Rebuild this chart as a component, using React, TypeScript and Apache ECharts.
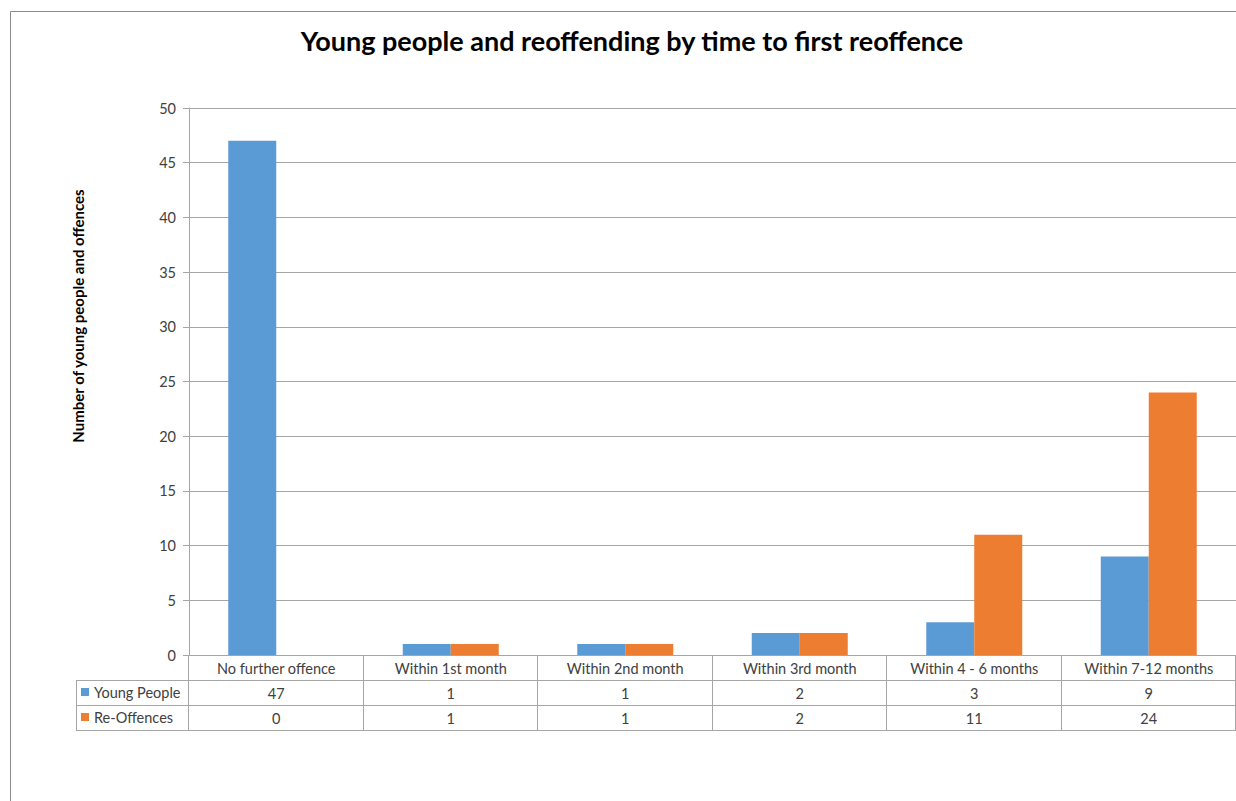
import React, { useEffect, useRef } from "react";
import * as echarts from "echarts";

const categories = [
  "No further offence",
  "Within 1st month",
  "Within 2nd month",
  "Within 3rd month",
  "Within 4 - 6 months",
  "Within 7-12 months",
];
const youngPeople = [47, 1, 1, 2, 3, 9];
const reOffences = [0, 1, 1, 2, 11, 24];
const seriesNames = ["Young People", "Re-Offences"];
const seriesColors = ["#5B9BD5", "#ED7D31"];

const W = 1236;
const H = 801;
// plot area
const PL = 189;
const PR = 1236;
const PT = 108;
const PB = 655;
const ROW = 25;
const TABLE_LEFT = 76;
const FONT = "Lato, 'Open Sans', sans-serif";
const LINE = "#A6A6A6";
const TEXT = "#404040";
const SMALL = 14.5;

export default function App() {
  const ref = useRef<HTMLDivElement>(null);

  useEffect(() => {
    if (!ref.current) return;
    const chart = echarts.init(ref.current, undefined, { renderer: "svg" });
    const colW = (PR - PL) / categories.length;

    const graphics: any[] = [];
    // outer chart frame (left & top edges)
    graphics.push({
      type: "polyline",
      shape: { points: [[10.5, H], [10.5, 11.5], [W, 11.5]] },
      style: { stroke: "#8C8C8C", lineWidth: 1, fill: "none" },
      silent: true,
    });
    // data table: horizontal rules
    [PB + ROW, PB + 2 * ROW, PB + 3 * ROW].forEach((y) => {
      graphics.push({
        type: "line",
        shape: { x1: TABLE_LEFT, y1: y + 0.5, x2: PR, y2: y + 0.5 },
        style: { stroke: LINE, lineWidth: 1 },
        silent: true,
      });
    });
    // data table: vertical rules
    for (let i = 0; i <= categories.length; i++) {
      const x = Math.round(PL + i * colW) - 0.5;
      graphics.push({
        type: "line",
        shape: { x1: x, y1: PB, x2: x, y2: PB + 3 * ROW },
        style: { stroke: LINE, lineWidth: 1 },
        silent: true,
      });
    }
    graphics.push({
      type: "line",
      shape: { x1: TABLE_LEFT + 0.5, y1: PB + ROW, x2: TABLE_LEFT + 0.5, y2: PB + 3 * ROW },
      style: { stroke: LINE, lineWidth: 1 },
      silent: true,
    });
    // legend keys inside the table
    seriesNames.forEach((name, i) => {
      const cy = PB + ROW * (i + 1) + ROW / 2;
      graphics.push({
        type: "rect",
        shape: { x: 81, y: cy - 4.5, width: 8, height: 8 },
        style: { fill: seriesColors[i] },
        silent: true,
      });
      graphics.push({
        type: "text",
        x: 94,
        y: cy,
        style: {
          text: name,
          font: `${SMALL}px ${FONT}`,
          fill: TEXT,
          verticalAlign: "middle",
          align: "left",
        },
        silent: true,
      });
    });
    // y axis title
    graphics.push({
      type: "text",
      x: 78,
      y: 316,
      rotation: Math.PI / 2,
      style: {
        text: "Number of young people and offences",
        font: `bold 15px ${FONT}`,
        fill: "#000000",
        align: "center",
        verticalAlign: "middle",
      },
      silent: true,
    });

    const rowAxis = (offset: number, values: number[]) => ({
      type: "category",
      data: categories,
      position: "bottom",
      offset,
      axisLine: { show: false },
      axisTick: { show: false },
      axisLabel: {
        interval: 0,
        margin: 6,
        fontFamily: FONT,
        fontSize: SMALL,
        color: TEXT,
        formatter: (_v: string, idx: number) => String(values[idx]),
      },
    });

    chart.setOption({
      animation: false,
      backgroundColor: "#ffffff",
      title: {
        text: "Young people and reoffending by time to first reoffence",
        left: 627,
        textAlign: "center",
        top: 22,
        textStyle: { fontFamily: FONT, fontWeight: "bold", fontSize: 27, color: "#000000" },
      },
      grid: { left: PL, right: W - PR, top: PT, bottom: H - PB, containLabel: false },
      xAxis: [
        {
          type: "category",
          data: categories,
          axisLine: { show: true, lineStyle: { color: LINE, width: 1 } },
          axisTick: { show: false },
          axisLabel: {
            interval: 0,
            margin: 6,
            fontFamily: FONT,
            fontSize: SMALL,
            color: TEXT,
          },
        },
        rowAxis(ROW, youngPeople),
        rowAxis(2 * ROW, reOffences),
      ],
      yAxis: {
        type: "value",
        min: 0,
        max: 50,
        interval: 5,
        axisLine: { show: true, lineStyle: { color: LINE, width: 1 } },
        axisTick: { show: true, inside: false, length: 6, lineStyle: { color: LINE } },
        axisLabel: { fontFamily: FONT, fontSize: SMALL, color: TEXT, margin: 13 },
        splitLine: { show: true, lineStyle: { color: LINE, width: 1 } },
      },
      series: [
        {
          name: seriesNames[0],
          type: "bar",
          data: youngPeople,
          barWidth: 48,
          barGap: "0%",
          itemStyle: { color: seriesColors[0] },
        },
        {
          name: seriesNames[1],
          type: "bar",
          data: reOffences,
          barWidth: 48,
          barGap: "0%",
          itemStyle: { color: seriesColors[1] },
        },
      ],
      graphic: graphics,
    });

    return () => chart.dispose();
  }, []);

  return (
    <div
      ref={ref}
      style={{ position: "absolute", left: 0, top: 0, width: W, height: H, background: "#fff" }}
    />
  );
}
